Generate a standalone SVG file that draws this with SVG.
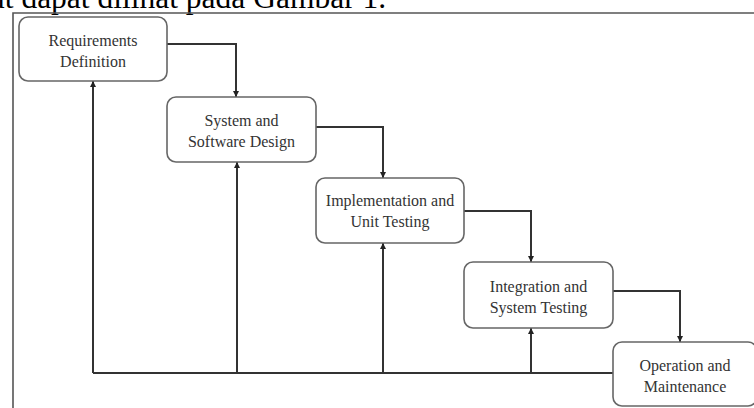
<svg xmlns="http://www.w3.org/2000/svg" width="754" height="408" viewBox="0 0 754 408">
<style>
.box{fill:#fff;stroke:#666;stroke-width:1.6}
.lbl{font-family:"Liberation Serif","Times New Roman",serif;font-size:16px;fill:#333;text-anchor:middle}
.cn{fill:none;stroke:#333;stroke-width:2}
.frame{stroke:#555;stroke-width:1.6;fill:none}
</style>
<defs>
<marker id="ah" viewBox="0 0 10 10" refX="10" refY="5" markerWidth="6" markerHeight="6" markerUnits="userSpaceOnUse" orient="auto">
<path d="M0,0 L10,5 L0,10 z" fill="#222"/>
</marker>
</defs>
<rect width="754" height="408" fill="#fff"/>
<text x="-11" y="8" font-family="'Liberation Serif','Times New Roman',serif" font-size="31.5" fill="#000">ut dapat dilihat pada Gambar 1.</text>
<path class="frame" d="M13,408 V13 H754"/>
<g id="connectors">
<path class="cn" d="M167,44 H236 V97" marker-end="url(#ah)"/>
<path class="cn" d="M316,127 H383 V178" marker-end="url(#ah)"/>
<path class="cn" d="M464,211 H531 V262" marker-end="url(#ah)"/>
<path class="cn" d="M613,291 H680 V342" marker-end="url(#ah)"/>
<path class="cn" d="M613,373 H93"/>
<path class="cn" d="M93,373 V81" marker-end="url(#ah)"/>
<path class="cn" d="M237,373 V162" marker-end="url(#ah)"/>
<path class="cn" d="M383,373 V243" marker-end="url(#ah)"/>
<path class="cn" d="M531,373 V328" marker-end="url(#ah)"/>
</g>
<g id="n1">
<rect class="box" x="19" y="17" width="148" height="64" rx="9"/>
<text class="lbl" x="93" y="46">Requirements</text>
<text class="lbl" x="93" y="67">Definition</text>
</g>
<g id="n2">
<rect class="box" x="167" y="97" width="149" height="65" rx="9"/>
<text class="lbl" x="241.5" y="126">System and</text>
<text class="lbl" x="241.5" y="147">Software Design</text>
</g>
<g id="n3">
<rect class="box" x="316" y="178" width="148" height="65" rx="9"/>
<text class="lbl" x="390" y="206">Implementation and</text>
<text class="lbl" x="390" y="227">Unit Testing</text>
</g>
<g id="n4">
<rect class="box" x="464" y="262" width="149" height="66" rx="9"/>
<text class="lbl" x="538.5" y="292">Integration and</text>
<text class="lbl" x="538.5" y="313">System Testing</text>
</g>
<g id="n5">
<rect class="box" x="613" y="342" width="144" height="64" rx="9"/>
<text class="lbl" x="685" y="371">Operation and</text>
<text class="lbl" x="685" y="392">Maintenance</text>
</g>
</svg>
